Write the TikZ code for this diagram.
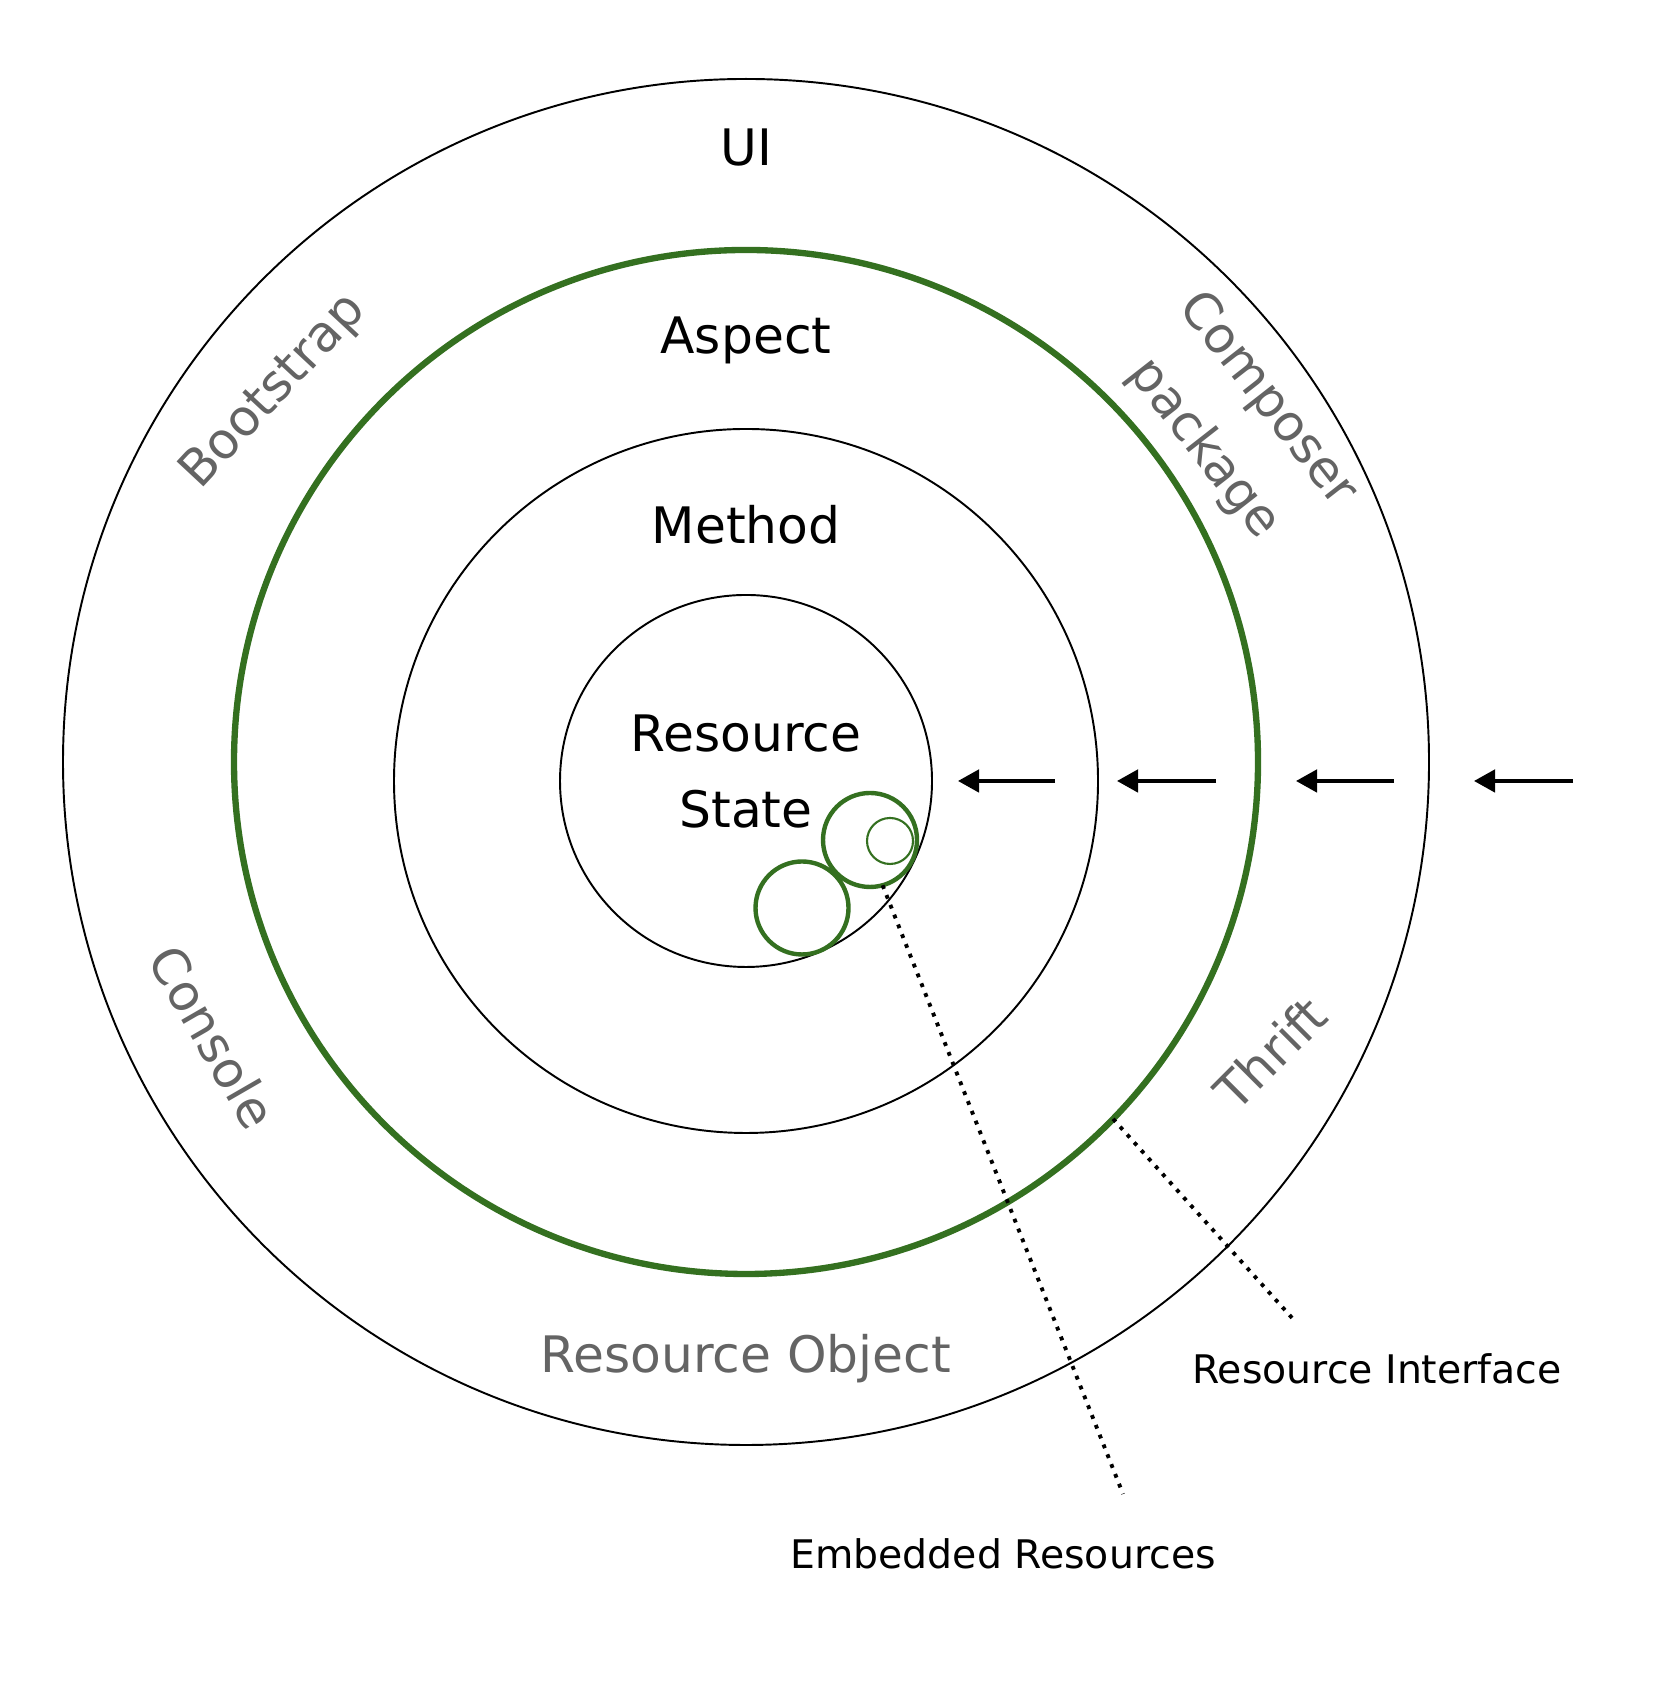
\documentclass[tikz,border=0pt]{standalone}
\usepackage{fontspec}
\setmainfont{DejaVu Sans}
\usetikzlibrary{arrows.meta}
\definecolor{ringgreen}{RGB}{52,112,32}
\definecolor{labelgray}{RGB}{100,100,100}
\tikzset{
	ring/.style={black,line width=0.55pt},
	greenring/.style={ringgreen,line width=1.8pt},
	big/.style={font=\fontsize{14.3}{17}\selectfont},
	side/.style={big,text=labelgray},
	small/.style={font=\fontsize{11.2}{13}\selectfont},
	flow/.style={line width=1pt,-{Triangle[length=6pt,width=6.4pt]}},
	lead/.style={line width=1.1pt,dash pattern=on 1.1pt off 1.9pt}
}
\begin{document}
\begin{tikzpicture}[x=0.01cm,y=0.01cm]
	\useasboundingbox (0,0) rectangle (1678,1692);
	\coordinate (ctr) at (746,930);
	\coordinate (core) at (746,911);
	% layers
	\draw[ring] (ctr) circle[radius=683];
	\draw[greenring] (ctr) circle[radius=512];
	\draw[ring] (core) circle[radius=352];
	\draw[ring] (core) circle[radius=186];
	% embedded resources
	\draw[ringgreen,line width=1.25pt] (802,784) circle[radius=46.5];
	\draw[ringgreen,line width=1.25pt] (870,852) circle[radius=47];
	\draw[ringgreen,line width=0.6pt] (890,851) circle[radius=23];
	% labels
	\node[big,anchor=base] (ui) at (746,1526) {UI};
	\node[big,anchor=base] (aspect) at (746,1338) {Aspect};
	\node[big,anchor=base] (method) at (746,1148) {Method};
	\node[big,anchor=base] (res) at (746,940) {Resource};
	\node[big,anchor=base] (state) at (746,864) {State};
	\node[side,anchor=base] (object) at (746,319) {Resource Object};
	\node[side,rotate=47] (boot) at (274,1300) {Bootstrap};
	\node[side,rotate=-52] (comp) at (1267,1292) {Composer};
	\node[side,rotate=-52] (pkg) at (1204,1243) {package};
	\node[side,rotate=-60] (console) at (213,655) {Console};
	\node[side,rotate=45] (thrift) at (1270,639) {Thrift};
	\node[small,anchor=base] (iface) at (1377,308) {Resource Interface};
	\node[small,anchor=base] (embed) at (1003,123) {Embedded Resources};
	% requests coming in
	\foreach \a/\b in {1055/958,1216/1117,1394/1296,1573/1474}{
		\coordinate (t\a) at (\a,911);
		\coordinate (h\a) at (\b,911);
		\draw[flow] (t\a) -- (h\a);
	}
	% pointers
	\coordinate (embA) at ([shift={(-74.5:47)}]870,852);
	\coordinate (embB) at (1123,198);
	\coordinate (ifaceA) at ([shift={(-44.2:512)}]ctr);
	\coordinate (ifaceB) at (1293,373);
	\draw[lead] (embA) -- (embB);
	\draw[lead] (ifaceA) -- (ifaceB);
\end{tikzpicture}
\end{document}
